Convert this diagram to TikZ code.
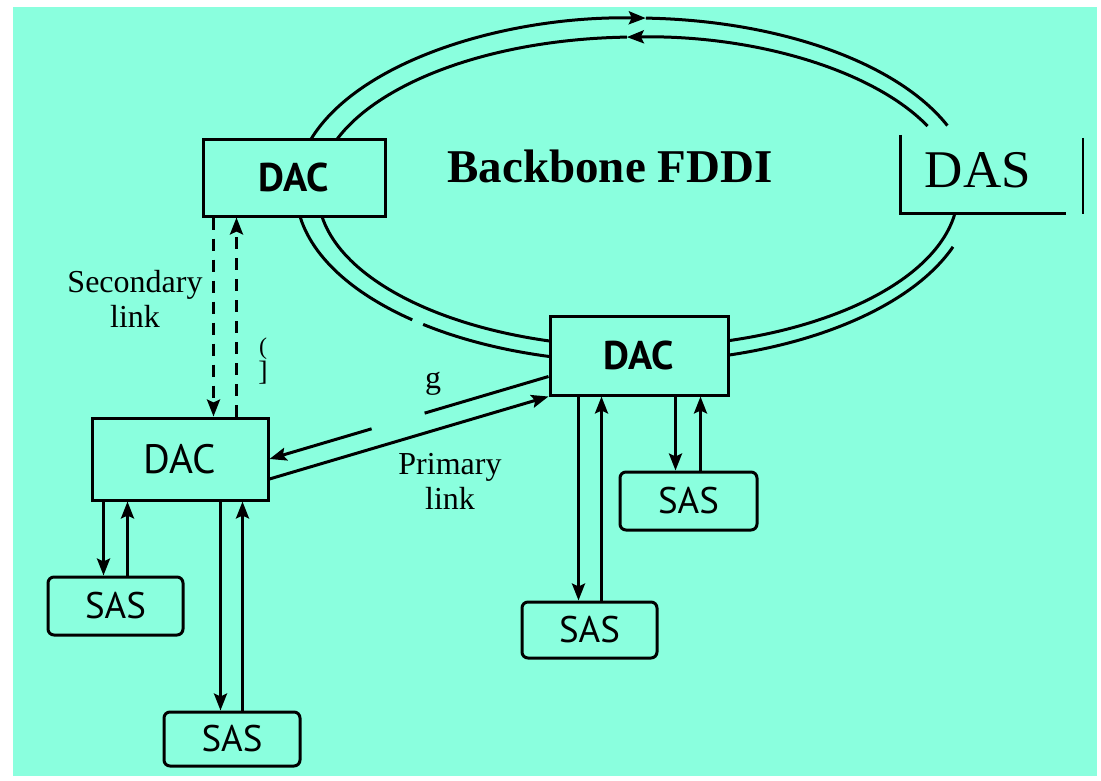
\documentclass[tikz,border=0pt]{standalone}
\usepackage{fontspec}
\setmainfont{Liberation Serif}
\newfontfamily\sasfont{PT Sans}
\usetikzlibrary{arrows.meta,calc}
\definecolor{bgc}{RGB}{138,255,222}
\begin{document}
\begin{tikzpicture}[x=1pt,y=-1pt,line width=3pt,
  arr/.style={-{Stealth[length=17pt,width=13pt,inset=3pt]}},
  box/.style={draw,fill=bgc,inner sep=0pt},
  dacbox/.style={box,font=\sasfont\bfseries\fontsize{40}{44}\selectfont},
  dacboxr/.style={box,font=\sasfont\fontsize{41}{44}\selectfont},
  sasbox/.style={box,rounded corners=6pt,font=\sasfont\fontsize{37}{40}\selectfont},
  lbl/.style={font=\fontsize{32}{35}\selectfont,align=center,inner sep=0pt},
  dsh/.style={dash pattern=on 12pt off 9pt}]
\useasboundingbox (0,0) rectangle (1101,781);
\fill[white] (0,0) rectangle (1101,781);
\fill[bgc] (13,7) rectangle (1097,776);
% ring
\coordinate (oc) at (634,190);
\coordinate (ic) at (638,192);
\draw[arr] ($(oc)+(131:338 and 172)$) arc[start angle=131,end angle=272,x radius=338,y radius=172];
\draw ($(oc)+(272:338 and 172)$) arc[start angle=272,end angle=338,x radius=338,y radius=172];
\draw ($(oc)+(19.3:338 and 172)$) arc[start angle=19.3,end angle=128.6,x radius=338,y radius=172];
\draw[arr] ($(ic)+(334.8:320 and 155)$) arc[start angle=334.8,end angle=268,x radius=320,y radius=155];
\draw ($(ic)+(268:320 and 155)$) arc[start angle=268,end angle=8.5,x radius=320,y radius=155];
% boxes
\node[dacbox,minimum width=182pt,minimum height=76pt] (dactl) at (294,178) {DAC};
\node[dacbox,minimum width=178pt,minimum height=79pt] (dacm) at (639,355.5) {DAC};
\node[dacboxr,minimum width=176pt,minimum height=82pt] (dacl) at (180,459) {DAC};
\node[sasbox,minimum width=135pt,minimum height=58pt] (sas1) at (115.5,606) {SAS};
\node[sasbox,minimum width=136pt,minimum height=54pt] (sas2) at (232,739) {SAS};
\node[sasbox,minimum width=135pt,minimum height=56pt] (sas3) at (589.5,630) {SAS};
\node[sasbox,minimum width=137pt,minimum height=58pt] (sas4) at (688.5,501) {SAS};
% DAS
\node[font=\fontsize{53}{60}\selectfont,inner sep=0pt] (das) at (978,170) {DAS};
\draw (900,135) -- (900,213) -- (1066,213);
\draw[line width=2.2pt] (1083,138) -- (1083,214);
% title
\node[font=\bfseries\fontsize{47}{52}\selectfont,inner sep=0pt] (title) at (610,166) {Backbone FDDI};
% secondary link
\draw[arr,dsh] ([xshift=12pt]dactl.south west) -- ([xshift=123pt]dacl.north west);
\draw[arr,dsh] ([xshift=146pt]dacl.north west) -- ([xshift=35pt]dactl.south west);
\node[lbl] (seclbl) at (135,299) {Secondary\\link};
\node[font=\fontsize{24}{26}\selectfont,inner sep=0pt] (frag1) at (263,349) {(};
\node[font=\fontsize{28}{30}\selectfont,inner sep=0pt] (frag2) at (263,373) {]};
% primary link
\coordinate (pa) at ([yshift=20pt]dacm.south west);
\draw (pa) -- ($(pa)!0.444!(dacl.east)$);
\draw[arr] ($(pa)!0.634!(dacl.east)$) -- (dacl.east);
\draw[arr] ([yshift=-20pt]dacl.east) -- (dacm.south west);
\node[lbl] (prilbl) at (450,481) {Primary\\link};
\node[font=\fontsize{32}{35}\selectfont,anchor=base,inner sep=0pt] (frag3) at (433,388) {g};
% SAS links
\draw[arr] ([xshift=13pt]dacl.south west) -- ([xshift=57pt]sas1.north west);
\draw[arr] ([xshift=81pt]sas1.north west) -- ([xshift=37pt]dacl.south west);
\draw[arr] ([xshift=130pt]dacl.south west) -- ([xshift=58pt]sas2.north west);
\draw[arr] ([xshift=80pt]sas2.north west) -- ([xshift=152pt]dacl.south west);
\draw[arr] ([xshift=30pt]dacm.south west) -- ([xshift=58pt]sas3.north west);
\draw[arr] ([xshift=81pt]sas3.north west) -- ([xshift=53pt]dacm.south west);
\draw[arr] ([xshift=127pt]dacm.south west) -- ([xshift=57pt]sas4.north west);
\draw[arr] ([xshift=82pt]sas4.north west) -- ([xshift=152pt]dacm.south west);
\end{tikzpicture}
\end{document}
